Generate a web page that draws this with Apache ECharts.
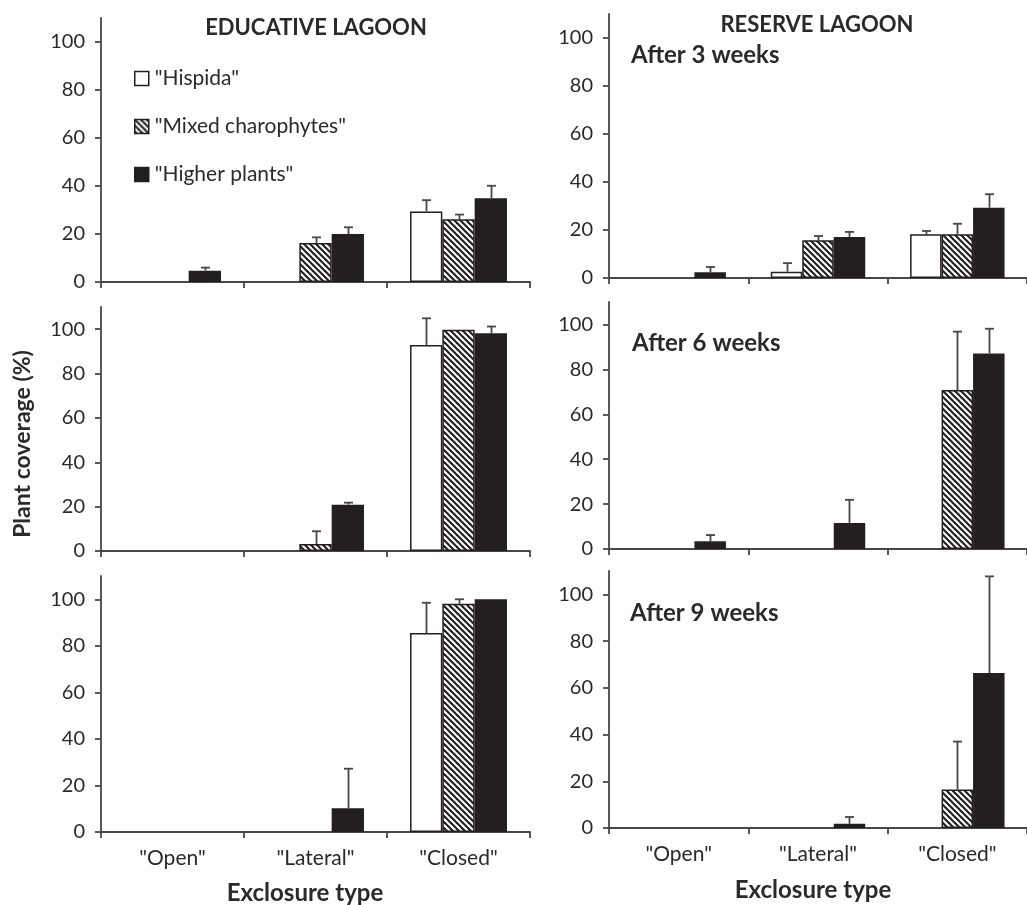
<!DOCTYPE html>
<html>
<head>
<meta charset="utf-8">
<script src="https://cdn.jsdelivr.net/npm/echarts@6/dist/echarts.min.js"></script>
<style>
html,body{margin:0;padding:0;background:#fff;}
#chart{width:1027px;height:905px;}
</style>
</head>
<body>
<div id="chart"></div>
<script>
// ---------- DATA ----------
const categories = ['"Open"', '"Lateral"', '"Closed"'];
const seriesNames = ['"Hispida"', '"Mixed charophytes"', '"Higher plants"'];
const yTickValues = [0, 20, 40, 60, 80, 100];

// Educative lagoon, after 3 weeks
const edu3Hispida = [0, 0, 29.4];
const edu3HispidaErr = [0, 0, 4.7];
const edu3Mixed = [0, 16.2, 26.1];
const edu3MixedErr = [0, 2.4, 2.0];
const edu3Higher = [4.7, 20.0, 34.9];
const edu3HigherErr = [1.3, 2.8, 5.2];

// Reserve lagoon, after 3 weeks
const res3Hispida = [0, 2.6, 18.2];
const res3HispidaErr = [0, 3.6, 1.4];
const res3Mixed = [0, 15.7, 18.2];
const res3MixedErr = [0, 1.8, 4.4];
const res3Higher = [2.4, 17.1, 29.3];
const res3HigherErr = [2.2, 2.1, 5.6];

// Educative lagoon, after 6 weeks
const edu6Hispida = [0, 0, 92.9];
const edu6HispidaErr = [0, 0, 12.0];
const edu6Mixed = [0, 3.2, 99.7];
const edu6MixedErr = [0, 5.7, 0];
const edu6Higher = [0, 20.9, 98.2];
const edu6HigherErr = [0, 0.9, 3.0];

// Reserve lagoon, after 6 weeks
const res6Hispida = [0, 0, 0];
const res6HispidaErr = [0, 0, 0];
const res6Mixed = [0, 0, 70.8];
const res6MixedErr = [0, 0, 26.0];
const res6Higher = [3.4, 11.6, 87.1];
const res6HigherErr = [2.8, 10.3, 11.0];

// Educative lagoon, after 9 weeks
const edu9Hispida = [0, 0, 85.5];
const edu9HispidaErr = [0, 0, 13.0];
const edu9Mixed = [0, 0, 98.1];
const edu9MixedErr = [0, 0, 1.9];
const edu9Higher = [0, 10.2, 100];
const edu9HigherErr = [0, 17.0, 0];

// Reserve lagoon, after 9 weeks
const res9Hispida = [0, 0, 0];
const res9HispidaErr = [0, 0, 0];
const res9Mixed = [0, 0, 16.5];
const res9MixedErr = [0, 0, 20.5];
const res9Higher = [0, 1.8, 66.3];
const res9HigherErr = [0, 2.9, 41.4];

// ---------- STYLE / LAYOUT ----------
const FONT = 'Lato';
const TEXT = '#2a2a2a';
const AXIS = '#474747';
const DARK = '#231f20';
const BAR_FRAC = 0.226;

const panels = [
  { vals: [edu3Hispida, edu3Mixed, edu3Higher], errs: [edu3HispidaErr, edu3MixedErr, edu3HigherErr], grid: { left: 101, top: 18, width: 429, height: 264 }, xLabels: false },
  { vals: [res3Hispida, res3Mixed, res3Higher], errs: [res3HispidaErr, res3MixedErr, res3HigherErr], grid: { left: 609, top: 14, width: 429, height: 264 }, xLabels: false },
  { vals: [edu6Hispida, edu6Mixed, edu6Higher], errs: [edu6HispidaErr, edu6MixedErr, edu6HigherErr], grid: { left: 101, top: 307, width: 429, height: 244 }, xLabels: false },
  { vals: [res6Hispida, res6Mixed, res6Higher], errs: [res6HispidaErr, res6MixedErr, res6HigherErr], grid: { left: 609, top: 302, width: 429, height: 247 }, xLabels: false },
  { vals: [edu9Hispida, edu9Mixed, edu9Higher], errs: [edu9HispidaErr, edu9MixedErr, edu9HigherErr], grid: { left: 101, top: 576, width: 429, height: 256 }, xLabels: true },
  { vals: [res9Hispida, res9Mixed, res9Higher], errs: [res9HispidaErr, res9MixedErr, res9HigherErr], grid: { left: 609, top: 571, width: 429, height: 257 }, xLabels: true }
];

// hatch pattern "\\\\"
function makeHatch() {
  const s = 6;
  const c = document.createElement('canvas');
  c.width = s; c.height = s;
  const g = c.getContext('2d');
  g.fillStyle = '#ffffff';
  g.fillRect(0, 0, s, s);
  g.strokeStyle = DARK;
  g.lineWidth = 2.1;
  for (const k of [-s, 0, s]) {
    g.beginPath();
    g.moveTo(k - 1, -1);
    g.lineTo(k + s + 1, s + 1);
    g.stroke();
  }
  return c;
}
const hatch = makeHatch();
const fills = ['#ffffff', { image: hatch, repeat: 'repeat' }, DARK];

function errRender(params, api) {
  const c = api.value(0), v = api.value(1), e = api.value(2), s = api.value(3);
  if (!e) return null;
  const catW = api.size([1, 0])[0];
  const bw = catW * BAR_FRAC;
  const base = api.coord([c, v]);
  const top = api.coord([c, v + e]);
  const x = Math.round(base[0] + (s - 1) * bw) + 0.5;
  const st = { stroke: AXIS, lineWidth: 1.8 };
  return {
    type: 'group',
    children: [
      { type: 'line', shape: { x1: x, y1: base[1], x2: x, y2: top[1] }, style: st },
      { type: 'line', shape: { x1: x - 4.5, y1: top[1], x2: x + 4.5, y2: top[1] }, style: st }
    ]
  };
}

const grids = [], xAxes = [], yAxes = [], series = [];
panels.forEach((p, i) => {
  grids.push(Object.assign({ containLabel: false }, p.grid));
  xAxes.push({
    type: 'category', gridIndex: i, data: categories,
    axisLine: { lineStyle: { color: AXIS, width: 1.8 } },
    axisTick: { show: true, length: 6, inside: false, lineStyle: { color: AXIS, width: 1.8 } },
    axisLabel: { show: p.xLabels, color: TEXT, fontFamily: FONT, fontSize: 21, margin: 16 },
    splitLine: { show: false }
  });
  yAxes.push({
    type: 'value', gridIndex: i, min: 0, max: 110, interval: 20,
    axisLine: { show: true, lineStyle: { color: AXIS, width: 1.8 } },
    axisTick: { show: true, length: 6, lineStyle: { color: AXIS, width: 1.8 }, customValues: yTickValues },
    axisLabel: { color: TEXT, fontFamily: FONT, fontSize: 20, margin: 16, customValues: yTickValues },
    splitLine: { show: false }
  });
  p.vals.forEach((arr, s) => {
    series.push({
      type: 'bar', name: seriesNames[s], xAxisIndex: i, yAxisIndex: i,
      data: arr.map(v => (v === 0 ? null : v)),
      barWidth: (BAR_FRAC * 100) + '%', barGap: '0%',
      itemStyle: { color: fills[s], borderColor: DARK, borderWidth: 1.5 },
      emphasis: { disabled: true },
      animation: false, z: 2
    });
  });
  const errData = [];
  p.vals.forEach((arr, s) => {
    arr.forEach((v, c) => {
      const e = p.errs[s][c];
      if (e > 0) errData.push([c, v, e, s]);
    });
  });
  series.push({
    type: 'custom', xAxisIndex: i, yAxisIndex: i,
    renderItem: errRender, data: errData,
    encode: { x: 0, y: 1 }, animation: false, silent: true, z: 3
  });
});

const chart = echarts.init(document.getElementById('chart'), null, { renderer: 'canvas' });
const txt = (text, x, y, size, weight, align, extra) => Object.assign({
  type: 'text', x: x, y: y, silent: true,
  style: { text: text, fill: TEXT, font: (weight || 'normal') + ' ' + size + 'px ' + FONT, textAlign: align || 'center', textVerticalAlign: 'middle' }
}, extra || {});

chart.setOption({
  animation: false,
  backgroundColor: '#ffffff',
  grid: grids,
  xAxis: xAxes,
  yAxis: yAxes,
  series: series,
  legend: {
    data: seriesNames,
    orient: 'vertical',
    left: 129, top: 63,
    itemWidth: 14, itemHeight: 14, itemGap: 27,
    icon: 'rect',
    selectedMode: false,
    itemStyle: { borderColor: DARK, borderWidth: 1.5 },
    textStyle: { color: TEXT, fontFamily: FONT, fontSize: 21, padding: [0, 0, 0, 1] }
  },
  graphic: [
    txt('EDUCATIVE LAGOON', 316, 28, 22, 'bold'),
    txt('RESERVE LAGOON', 817, 25, 22, 'bold'),
    txt('After 3 weeks', 631, 55, 24, 'bold', 'left'),
    txt('After 6 weeks', 632, 343, 24, 'bold', 'left'),
    txt('After 9 weeks', 630, 613, 24, 'bold', 'left'),
    txt('Exclosure type', 305, 893, 24, 'bold'),
    txt('Exclosure type', 813, 890, 24, 'bold'),
    txt('Plant coverage (%)', 23, 444, 23, 'bold', 'center', { rotation: Math.PI / 2 })
  ]
});
</script>
</body>
</html>
